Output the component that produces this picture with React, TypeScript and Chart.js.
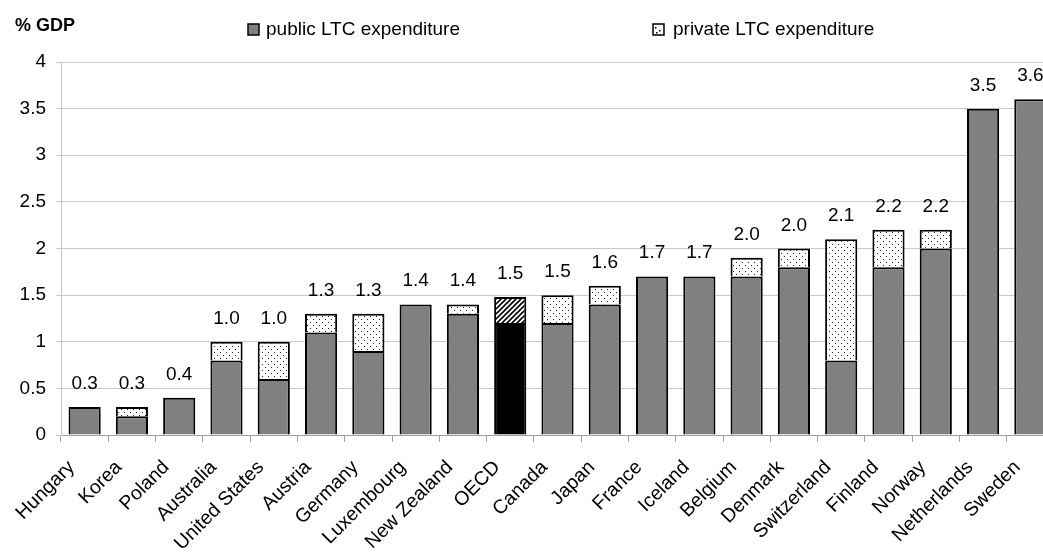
import React, { useEffect, useRef } from "react";
import { Chart, registerables } from "chart.js";

Chart.register(...registerables);

const categories = [
  "Hungary", "Korea", "Poland", "Australia", "United States", "Austria", "Germany",
  "Luxembourg", "New Zealand", "OECD", "Canada", "Japan", "France", "Iceland",
  "Belgium", "Denmark", "Switzerland", "Finland", "Norway", "Netherlands", "Sweden",
];
const publicValues = [0.3, 0.2, 0.4, 0.8, 0.6, 1.1, 0.9, 1.4, 1.3, 1.2, 1.2, 1.4, 1.7, 1.7, 1.7, 1.8, 0.8, 1.8, 2.0, 3.5, 3.6];
const privateValues = [0, 0.1, 0, 0.2, 0.4, 0.2, 0.4, 0, 0.1, 0.28, 0.3, 0.2, 0, 0, 0.2, 0.2, 1.3, 0.4, 0.2, 0, 0];
const totalLabels = ["0.3", "0.3", "0.4", "1.0", "1.0", "1.3", "1.3", "1.4", "1.4", "1.5", "1.5", "1.6", "1.7", "1.7", "2.0", "2.0", "2.1", "2.2", "2.2", "3.5", "3.6"];
const highlight = "OECD";
const seriesNames = ["public LTC expenditure", "private LTC expenditure"];
const yTitle = "% GDP";

const FONT = "'Liberation Sans', Arial, sans-serif";

function makeDots(): CanvasPattern | string {
  const c = document.createElement("canvas");
  c.width = 6;
  c.height = 6;
  const g = c.getContext("2d");
  if (!g) return "#fff";
  g.fillStyle = "#fff";
  g.fillRect(0, 0, 6, 6);
  g.fillStyle = "#222";
  g.fillRect(1, 1, 1, 1);
  g.fillRect(4, 4, 1, 1);
  return g.createPattern(c, "repeat") as CanvasPattern;
}

function makeHatch(): CanvasPattern | string {
  const c = document.createElement("canvas");
  c.width = 5;
  c.height = 5;
  const g = c.getContext("2d");
  if (!g) return "#444";
  g.fillStyle = "#fff";
  g.fillRect(0, 0, 5, 5);
  g.strokeStyle = "#000";
  g.lineWidth = 1.6;
  g.beginPath();
  g.moveTo(-1, 6);
  g.lineTo(6, -1);
  g.moveTo(-1, 1);
  g.lineTo(1, -1);
  g.moveTo(4, 6);
  g.lineTo(6, 4);
  g.stroke();
  return g.createPattern(c, "repeat") as CanvasPattern;
}

export default function App() {
  const ref = useRef<HTMLCanvasElement | null>(null);

  useEffect(() => {
    if (!ref.current) return;
    const dots = makeDots();
    const hatch = makeHatch();

    const labelPlugin = {
      id: "totals",
      afterDatasetsDraw(chart: any) {
        const ctx = chart.ctx;
        const xs = chart.scales.x;
        const ys = chart.scales.y;
        ctx.save();
        ctx.font = `19px ${FONT}`;
        ctx.fillStyle = "#000";
        ctx.textAlign = "center";
        ctx.textBaseline = "alphabetic";
        categories.forEach((_, i) => {
          const x = xs.getPixelForValue(i);
          const y = ys.getPixelForValue(publicValues[i] + privateValues[i]);
          ctx.fillText(totalLabels[i], x, y - 18);
        });
        ctx.restore();
      },
    };

    const legendPlugin = {
      id: "customLegend",
      afterDraw(chart: any) {
        const ctx = chart.ctx;
        ctx.save();
        ctx.font = `bold 18px ${FONT}`;
        ctx.fillStyle = "#000";
        ctx.textBaseline = "alphabetic";
        ctx.textAlign = "left";
        ctx.fillText(yTitle, 15, 31);

        ctx.font = `19px ${FONT}`;
        // public
        ctx.fillStyle = "#808080";
        ctx.fillRect(248, 24, 11, 11);
        ctx.strokeStyle = "#000";
        ctx.lineWidth = 1.5;
        ctx.strokeRect(248, 24, 11, 11);
        ctx.fillStyle = "#000";
        ctx.fillText(seriesNames[0], 266, 35);
        // private
        ctx.fillStyle = "#fff";
        ctx.fillRect(653, 24, 11, 11);
        ctx.fillStyle = "#000";
        ctx.fillRect(655, 27, 1.5, 1.5);
        ctx.fillRect(659, 30, 1.5, 1.5);
        ctx.fillRect(656, 32, 1.5, 1.5);
        ctx.strokeRect(653, 24, 11, 11);
        ctx.fillText(seriesNames[1], 673, 35);
        ctx.restore();
      },
    };

    const chart = new Chart(ref.current, {
      type: "bar",
      data: {
        labels: categories,
        datasets: [
          {
            label: seriesNames[0],
            data: publicValues,
            backgroundColor: categories.map((c) => (c === highlight ? "#000000" : "#808080")),
            borderColor: "#000",
            borderWidth: 2,
            barPercentage: 0.68,
            categoryPercentage: 1,
          },
          {
            label: seriesNames[1],
            data: privateValues.map((v) => (v > 0 ? v : null)),
            backgroundColor: categories.map((c) => (c === highlight ? hatch : dots)),
            borderColor: "#000",
            borderWidth: 2,
            barPercentage: 0.68,
            categoryPercentage: 1,
          },
        ],
      },
      options: {
        responsive: false,
        animation: false,
        devicePixelRatio: 1,
        layout: { padding: { top: 62, left: 0, right: 0, bottom: 0 } },
        plugins: {
          legend: { display: false },
          tooltip: { enabled: false },
        },
        scales: {
          x: {
            stacked: true,
            grid: {
              display: true,
              offset: true,
              drawOnChartArea: false,
              drawTicks: true,
              tickLength: 7,
              color: "#a0a0a0",
            },
            border: { display: true, color: "#a0a0a0", width: 1 },
            ticks: {
              minRotation: 45,
              maxRotation: 45,
              autoSkip: false,
              color: "#000",
              font: { family: FONT, size: 19.5 },
              padding: 14,
              labelOffset: -13,
            },
            afterFit: (scale: any) => {
              scale.height = 121;
              scale.paddingLeft = 0;
              scale.paddingRight = 0;
            },
          },
          y: {
            stacked: true,
            min: 0,
            max: 4,
            grid: {
              color: "#c8c8c8",
              tickLength: 5,
            },
            border: { display: true, color: "#c8c8c8" },
            ticks: {
              stepSize: 0.5,
              color: "#000",
              font: { family: FONT, size: 19 },
              padding: 10,
              callback: (v: any) => String(Number(v)),
            },
            afterFit: (scale: any) => {
              scale.width = 61;
              scale.paddingTop = 0;
              scale.paddingBottom = 0;
            },
          },
        },
      },
      plugins: [labelPlugin, legendPlugin],
    });
    return () => chart.destroy();
  }, []);

  return (
    <div
      style={{
        position: "fixed",
        left: 0,
        top: 0,
        width: 1043,
        height: 556,
        overflow: "hidden",
        background: "#fff",
      }}
    >
      <canvas ref={ref} width={1054} height={556} style={{ display: "block" }} />
    </div>
  );
}
